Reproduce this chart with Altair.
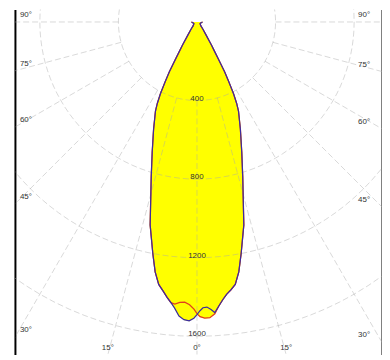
import altair as alt
import pandas as pd

# C0-C180 plane (blue) : angle from nadir (deg), intensity (cd)
c0_angles = [-90, -75, -60, -45, -40, -35, -32, -31, -30, -29, -28, -27, -26, -25, -22, -19, -16.5, -13,
             -10.8, -9.5, -8.3, -7.2, -6.2, -5.3, -4.5, -3.5, -2.5, -1.5, -0.6, 0, 0.6, 1.2, 2,
             2.8, 3.5, 4.4, 5.3, 6.2, 7.2, 8.3, 9.5, 10.8, 13, 16.5, 19, 22, 25, 26, 27, 28, 29,
             30, 31, 32, 35, 40, 45, 60, 75, 90]
c0_values = [28, 20, 18, 28, 45, 80, 140, 170, 220, 290, 345, 410, 460, 500, 590, 700, 820, 1060,
             1200, 1290, 1350, 1380, 1410, 1435, 1460, 1500, 1517, 1522, 1508, 1490, 1470, 1455, 1452,
             1465, 1482, 1450, 1420, 1395, 1375, 1350, 1290, 1200, 1060, 820, 700, 590, 500, 460, 410, 345, 290,
             220, 170, 140, 80, 45, 28, 18, 20, 28]

# C90-C270 plane (red)
c90_angles = [-90, -75, -60, -45, -40, -35, -32, -31, -30, -29, -28, -27, -26, -25, -22, -19, -16.5, -13,
              -10.8, -9.5, -8.3, -7.2, -6.2, -5.3, -4.5, -3.5, -2.5, -1.5, -0.6, 0, 0.6, 1.5, 2.5,
              3.5, 4.4, 5.3, 6.2, 7.2, 8.3, 9.5, 10.8, 13, 16.5, 19, 22, 25, 26, 27, 28, 29,
              30, 31, 32, 35, 40, 45, 60, 75, 90]
c90_values = [28, 20, 18, 28, 45, 80, 140, 170, 220, 290, 345, 410, 460, 500, 590, 700, 820, 1060,
              1200, 1290, 1350, 1380, 1410, 1435, 1440, 1430, 1428, 1440, 1462, 1485, 1500, 1508, 1507,
              1488, 1450, 1420, 1395, 1375, 1350, 1290, 1200, 1060, 820, 700, 590, 500, 460, 410, 345, 290,
              220, 170, 140, 80, 45, 28, 18, 20, 28]

ring_values = [400, 800, 1200, 1600]
spoke_angles = [-90, -75, -60, -45, -30, -15, 0, 15, 30, 45, 60, 75, 90]
angle_labels = ["90°", "75°", "60°", "45°", "30°", "15°", "0°", "15°", "30°", "45°", "60°", "75°", "90°"]

# layout
PX = 5.05           # cd per pixel
W, H = 370, 348
OX, OY = 183.5, 12.7
XDOM = [-OX * PX, (W - OX) * PX]
YDOM = [-(H - OY) * PX, OY * PX]

xs = alt.Scale(domain=XDOM, nice=False, zero=False)
ys = alt.Scale(domain=YDOM, nice=False, zero=False)

curves = pd.DataFrame({
    "a": c0_angles + c90_angles,
    "v": c0_values + c90_values,
    "plane": ["C0"] * len(c0_angles) + ["C90"] * len(c90_angles),
    "i": list(range(len(c0_angles))) + list(range(len(c90_angles))),
})

rings = pd.DataFrame([{"v": r, "a": a, "i": k} for r in ring_values for k, a in enumerate(range(0, 361, 3))])
spokes = pd.DataFrame([{"a": a, "v": v, "i": k} for a in spoke_angles for k, v in enumerate([ring_values[0], 4000])])
labels = pd.DataFrame({"a": spoke_angles, "label": angle_labels})
ringlab = pd.DataFrame({"v": ring_values, "label": [str(r) for r in ring_values]})

polar_x = "datum.v*sin(datum.a*PI/180)"
polar_y = "-datum.v*cos(datum.a*PI/180)"

grid_color = "#a8a8a8"

fill = alt.Chart(curves).transform_calculate(x=polar_x, y=polar_y).mark_line(
    fill="#ffff00", stroke="#ffff00", strokeWidth=0.5, clip=True
).encode(
    x=alt.X("x:Q", scale=xs, axis=None),
    y=alt.Y("y:Q", scale=ys, axis=alt.Axis(orient="left", domainColor="black", domainWidth=2,
                                             ticks=False, labels=False, grid=False, title=None)),
    detail="plane:N",
    order="i:Q",
)

ring_layer = alt.Chart(rings).transform_calculate(x=polar_x, y=polar_y).mark_line(
    stroke=grid_color, strokeWidth=0.8, strokeDash=[6, 3], opacity=0.55, clip=True
).encode(
    x=alt.X("x:Q", scale=xs, axis=None),
    y=alt.Y("y:Q", scale=ys, axis=None),
    detail="v:N",
    order="i:Q",
)

spoke_layer = alt.Chart(spokes).transform_calculate(x=polar_x, y=polar_y).mark_line(
    stroke=grid_color, strokeWidth=0.8, strokeDash=[6, 3], opacity=0.55, clip=True
).encode(
    x=alt.X("x:Q", scale=xs, axis=None),
    y=alt.Y("y:Q", scale=ys, axis=alt.Axis(orient="right", domainColor="black", domainWidth=2,
                                             ticks=False, labels=False, grid=False, title=None)),
    detail="a:N",
    order="i:Q",
)

red = alt.Chart(curves).transform_filter("datum.plane == 'C90'").transform_calculate(
    x=polar_x, y=polar_y).mark_line(stroke="#e0401e", strokeWidth=1.3, clip=True).encode(
    x=alt.X("x:Q", scale=xs, axis=None),
    y=alt.Y("y:Q", scale=ys, axis=None),
    order="i:Q",
)

blue = alt.Chart(curves).transform_filter("datum.plane == 'C0'").transform_calculate(
    x=polar_x, y=polar_y).mark_line(stroke="#3a2ca0", strokeWidth=1.2, clip=True).encode(
    x=alt.X("x:Q", scale=xs, axis=None),
    y=alt.Y("y:Q", scale=ys, axis=None),
    order="i:Q",
)

edge_calc = dict(
    xe=f"abs(datum.a) >= 30 ? (datum.a < 0 ? {XDOM[0]} : {XDOM[1]}) : {-YDOM[0]}*tan(datum.a*PI/180)",
)

def lab_layer(flt, align, dx, dy):
    return alt.Chart(labels).transform_filter(flt).transform_calculate(**edge_calc).transform_calculate(
        ye=f"abs(datum.a) >= 30 ? -abs(datum.xe)/tan(abs(datum.a)*PI/180) : {YDOM[0]}"
    ).mark_text(font="Liberation Sans", fontSize=8, color="#333333", align=align,
                baseline="middle", dx=dx, dy=dy).encode(
        x=alt.X("xe:Q", scale=xs, axis=None),
        y=alt.Y("ye:Q", scale=ys, axis=None),
        text="label:N",
    )

left_labels = lab_layer("datum.a <= -30", "left", 5, -7)
right_labels = lab_layer("datum.a >= 30", "right", -12, -7)
bottom_labels = lab_layer("abs(datum.a) < 30", "center", 0, -7)

ring_text = alt.Chart(ringlab).transform_calculate(x="0", y="-datum.v").mark_text(
    font="Liberation Sans", fontSize=8, color="#333333", align="center", baseline="middle", dy=-2
).encode(
    x=alt.X("x:Q", scale=xs, axis=None),
    y=alt.Y("y:Q", scale=ys, axis=None),
    text="label:N",
)

chart = alt.layer(
    fill, ring_layer, spoke_layer, red, blue, left_labels, right_labels, bottom_labels, ring_text
).resolve_axis(y="independent").properties(
    width=W, height=H,
    autosize=alt.AutoSizeParams(type="none"),
    padding={"left": 7, "top": 0, "right": 0, "bottom": 0},
).configure_view(strokeWidth=0)

chart.save("out.html", embed_options={"renderer": "svg", "actions": False})
